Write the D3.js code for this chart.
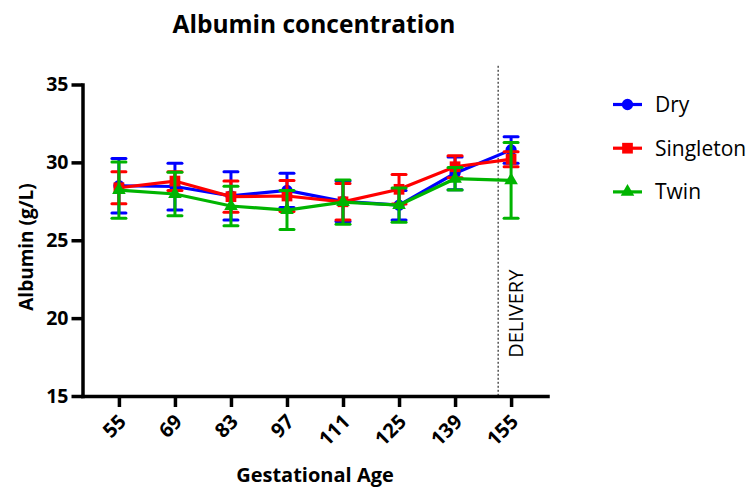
<!DOCTYPE html>
<html>
<head>
<meta charset="utf-8">
<script src="https://cdn.jsdelivr.net/npm/d3@7"></script>
<style>
  html, body { margin: 0; padding: 0; background: #fff; }
  svg { display: block; font-family: "Open Sans", Lato, sans-serif; }
</style>
</head>
<body>
<svg id="chart" width="749" height="488"></svg>
<script>
// ---- data ----
const ages = ["55", "69", "83", "97", "111", "125", "139", "155"];
const seriesNames = ["Dry", "Singleton", "Twin"];
const dryMean = [28.5, 28.45, 27.85, 28.2, 27.5, 27.25, 29.3, 30.8];
const drySem  = [1.75, 1.5, 1.55, 1.1, 1.3, 0.95, 1.05, 0.85];
const singMean = [28.37, 28.8, 27.8, 27.84, 27.47, 28.27, 29.72, 30.2];
const singSem  = [1.03, 0.6, 1.0, 1.0, 1.17, 0.95, 0.7, 0.48];
const twinMean = [28.22, 27.97, 27.2, 26.94, 27.45, 27.26, 28.95, 28.84];
const twinSem  = [1.8, 1.4, 1.27, 1.25, 1.42, 1.1, 0.72, 2.43];
const yTicks = [15, 20, 25, 30, 35];
const deliveryAge = 151.3;   // delivery marker between 139 and 155
const deliveryLabel = "DELIVERY";
const titleText = "Albumin concentration";
const xLabel = "Gestational Age";
const yLabel = "Albumin (g/L)";

const colors = ["#0000ff", "#ff0000", "#00b400"];
const shapes = ["circle", "square", "triangle"];
const series = [
  { name: seriesNames[0], mean: dryMean, sem: drySem },
  { name: seriesNames[1], mean: singMean, sem: singSem },
  { name: seriesNames[2], mean: twinMean, sem: twinSem }
];

// ---- scales ----
const svg = d3.select("#chart");
const x = d3.scalePoint().domain(ages).range([82.5, 547.5]).padding(0.65);
const y = d3.scaleLinear().domain([15, 35]).range([396, 84.5]);

// title
svg.append("text").attr("x", 314).attr("y", 33).attr("text-anchor", "middle")
  .style("font-size", "24.5px").style("font-weight", "bold").text(titleText);

// delivery line
const i139 = ages.indexOf("139"), i155 = ages.indexOf("155");
const dx = x(ages[i139]) + (deliveryAge - 139) / (155 - 139) * (x(ages[i155]) - x(ages[i139]));
svg.append("line").attr("x1", dx).attr("x2", dx).attr("y1", y(36.2)).attr("y2", y(15))
  .attr("stroke", "#000").attr("stroke-width", 1).attr("stroke-dasharray", "2,2");
svg.append("text")
  .attr("transform", `translate(${dx + 25},${y(17.45)}) rotate(-90)`)
  .attr("x", 0).attr("y", 0)
  .attr("text-anchor", "start")
  .style("font-size", "20px").text(deliveryLabel);

// axes
const yAxis = svg.append("g").attr("transform", "translate(82.5,0)")
  .call(d3.axisLeft(y).tickValues(yTicks).tickSize(11).tickSizeOuter(0).tickPadding(3));
const xAxis = svg.append("g").attr("transform", "translate(0,396)")
  .call(d3.axisBottom(x).tickSize(11).tickSizeOuter(0));
[yAxis, xAxis].forEach(g => {
  g.select(".domain").attr("stroke-width", 3.5).attr("stroke-linecap", "square");
  g.selectAll(".tick line").attr("stroke-width", 3.5);
  g.selectAll("text").style("font-size", "19.5px").style("font-weight", "bold")
    .style("font-family", "'Open Sans', sans-serif").attr("fill", "#000");
});
xAxis.selectAll(".tick text")
  .attr("x", 0).attr("y", 0).attr("dy", "0.35em")
  .attr("text-anchor", "end")
  .attr("transform", "translate(3,22) rotate(-45)")
  .style("font-size", "20px");

// axis labels
svg.append("text").attr("x", 315).attr("y", 482).attr("text-anchor", "middle")
  .style("font-size", "20px").style("font-weight", "bold").text(xLabel);
svg.append("text").attr("transform", "translate(33,247) rotate(-90)")
  .attr("text-anchor", "middle")
  .style("font-size", "19px").style("font-weight", "bold").text(yLabel);

// symbols
function symbolPath(shape) {
  if (shape === "circle") return d3.symbol(d3.symbolCircle, 100)();
  if (shape === "square") return d3.symbol(d3.symbolSquare, 115)();
  return d3.symbol(d3.symbolTriangle, 80)();
}

// series
const capW = 7;
series.forEach((s, si) => {
  const g = svg.append("g");
  const col = colors[si];
  const pts = ages.map((a, i) => ({ a, m: s.mean[i], e: s.sem[i] }));
  // error bars
  const eb = g.selectAll(".eb").data(pts).enter().append("g");
  eb.append("line").attr("x1", d => x(d.a)).attr("x2", d => x(d.a))
    .attr("y1", d => y(d.m + d.e)).attr("y2", d => y(d.m - d.e))
    .attr("stroke", col).attr("stroke-width", 3);
  eb.append("line").attr("x1", d => x(d.a) - capW).attr("x2", d => x(d.a) + capW)
    .attr("y1", d => y(d.m + d.e)).attr("y2", d => y(d.m + d.e))
    .attr("stroke", col).attr("stroke-width", 3).attr("stroke-linecap", "round");
  eb.append("line").attr("x1", d => x(d.a) - capW).attr("x2", d => x(d.a) + capW)
    .attr("y1", d => y(d.m - d.e)).attr("y2", d => y(d.m - d.e))
    .attr("stroke", col).attr("stroke-width", 3).attr("stroke-linecap", "round");
  // line
  g.append("path").datum(pts)
    .attr("d", d3.line().x(d => x(d.a)).y(d => y(d.m)))
    .attr("fill", "none").attr("stroke", col).attr("stroke-width", 3.2);
  // markers
  g.selectAll(".mk").data(pts).enter().append("path")
    .attr("transform", d => `translate(${x(d.a)},${y(d.m)})`)
    .attr("d", symbolPath(shapes[si])).attr("fill", col);
});

// legend
const legend = svg.append("g");
series.forEach((s, si) => {
  const ly = 104.5 + si * 43.7;
  legend.append("line").attr("x1", 613).attr("x2", 642).attr("y1", ly).attr("y2", ly)
    .attr("stroke", colors[si]).attr("stroke-width", 3.2);
  legend.append("path").attr("transform", `translate(627.5,${ly})`)
    .attr("d", symbolPath(shapes[si])).attr("fill", colors[si]);
  legend.append("text").attr("x", 655).attr("y", ly).attr("dy", "0.35em")
    .style("font-size", "21px").text(s.name);
});
</script>
</body>
</html>
